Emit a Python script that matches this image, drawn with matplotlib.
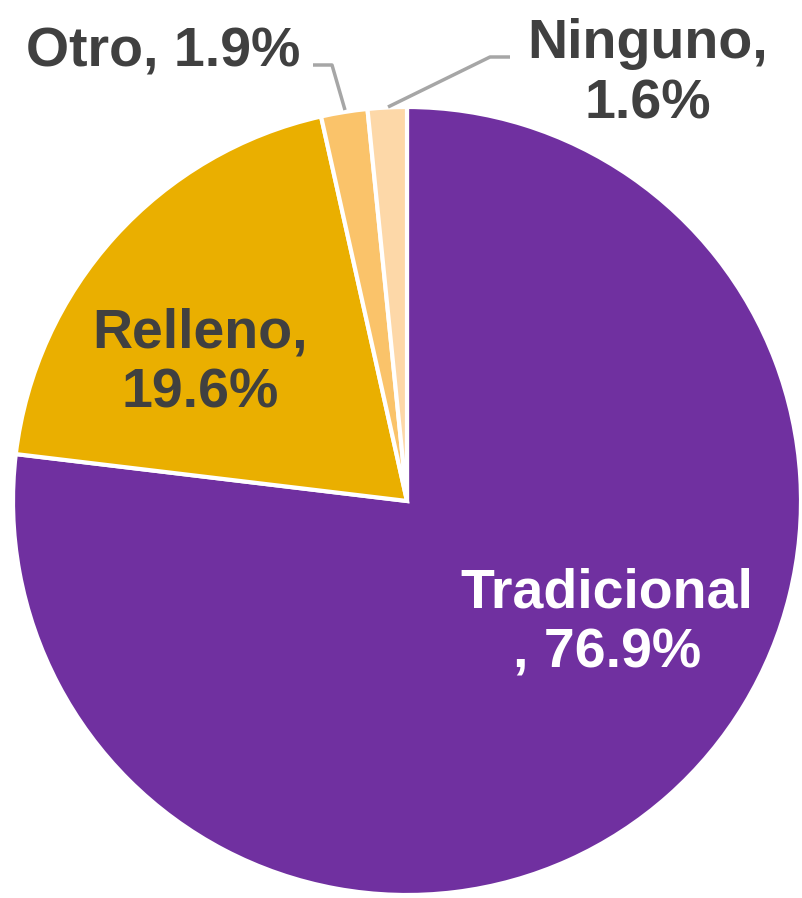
import matplotlib

matplotlib.use("Agg")
import matplotlib.pyplot as plt

# Data
categories = ["Tradicional", "Relleno", "Otro", "Ninguno"]
shares = [76.9, 19.6, 1.9, 1.6]
colors = ["#7030A0", "#EAAF00", "#FAC36A", "#FDD8A8"]

W, H = 803, 898
fig = plt.figure(figsize=(W / 100, H / 100), dpi=100)
ax = fig.add_axes([0, 0, 1, 1])

# pie drawn in pixel coords; y axis is flipped, so go counterclockwise to look clockwise
cx, cy, r = 407, 501, 394
ax.pie(
  shares, colors=colors, startangle=-90, counterclock=True,
  center=(cx, cy), radius=r, frame=True,
  wedgeprops={"edgecolor": "white", "linewidth": 3},
)
ax.set_xlim(0, W)
ax.set_ylim(H, 0)
ax.set_aspect("equal")
ax.axis("off")

font = {"family": "Liberation Sans", "weight": "bold", "size": 40}
dark = "#404040"
ax.text(200, 363, f"{categories[1]},\n{shares[1]}%", ha="center", va="center",
        color=dark, linespacing=1.2, **font)
ax.text(607, 624, f"{categories[0]}\n, {shares[0]}%", ha="center", va="center",
        color="white", linespacing=1.2, **font)
ax.text(163, 52, f"{categories[2]}, {shares[2]}%", ha="center", va="center",
        color=dark, **font)
ax.text(648, 74, f"{categories[3]},\n{shares[3]}%", ha="center", va="center",
        color=dark, linespacing=1.2, **font)

# leader lines
lc = "#A6A6A6"
ax.plot([313, 332, 345], [65, 65, 110], color=lc, lw=2.5, solid_capstyle="butt")
ax.plot([510, 490, 388], [57, 57, 107], color=lc, lw=2.5, solid_capstyle="butt")

fig.savefig("out.png", dpi=100)
